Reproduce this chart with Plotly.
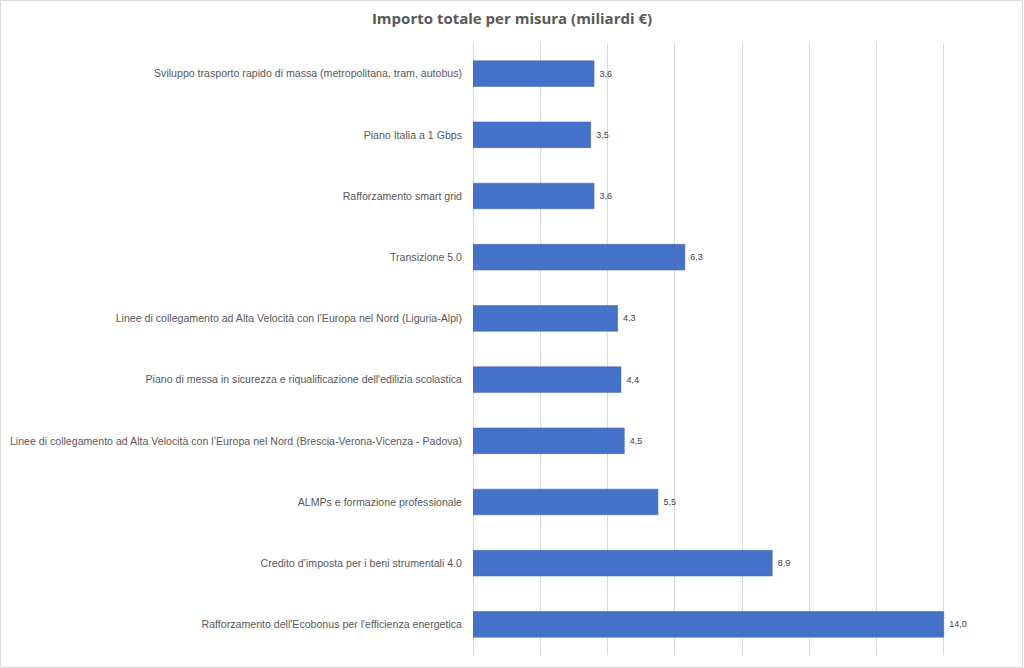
import plotly.graph_objects as go

categories = [
    "Sviluppo trasporto rapido di massa (metropolitana, tram, autobus)",
    "Piano Italia a 1 Gbps",
    "Rafforzamento smart grid",
    "Transizione 5.0",
    "Linee di collegamento ad Alta Velocità con l’Europa nel Nord (Liguria-Alpi)",
    "Piano di messa in sicurezza e riqualificazione dell'edilizia scolastica",
    "Linee di collegamento ad Alta Velocità con l’Europa nel Nord (Brescia-Verona-Vicenza - Padova)",
    "ALMPs e formazione professionale",
    "Credito d’imposta per i beni strumentali 4.0",
    "Rafforzamento dell'Ecobonus per l'efficienza energetica",
]
values = [3.6, 3.5, 3.6, 6.3, 4.3, 4.4, 4.5, 5.5, 8.9, 14.0]

W, H = 1024, 668
L, R, T, B = 473, 13, 43, 13
pw = W - L - R
ph = H - T - B

fig = go.Figure()
fig.add_trace(go.Bar(
    x=values, y=categories, orientation="h",
    marker=dict(color="#4571C8", line=dict(color="#3a64b4", width=0.5)),
    width=0.42,
    text=[" " + f"{v:.1f}".replace(".", ",") for v in values],
    textposition="outside",
    textfont=dict(family="Liberation Sans", size=9, color="#404040"),
    cliponaxis=False,
    hoverinfo="skip",
))

fig.update_layout(
    width=W, height=H,
    margin=dict(l=L, r=R, t=T, b=B, autoexpand=False),
    paper_bgcolor="white", plot_bgcolor="white",
    showlegend=False,
    separators=",.",
    title=dict(text="<b>Importo totale per misura (miliardi €)</b>",
               x=0.5, xref="container", xanchor="center",
               y=1 - 19 / H, yref="container", yanchor="middle",
               font=dict(family="Open Sans", size=15, color="#595959")),
    xaxis=dict(range=[0, 16], dtick=2, showticklabels=False,
               showgrid=True, gridcolor="#d9d9d9", gridwidth=1,
               zeroline=True, zerolinecolor="#d9d9d9", zerolinewidth=1,
               showline=False, fixedrange=True, automargin=False),
    yaxis=dict(categoryorder="array", categoryarray=categories,
               autorange="reversed", showgrid=False, ticks="",
               ticklabelstandoff=10, automargin=False,
               tickfont=dict(family="Liberation Sans", size=10.6, color="#595959")),
    bargap=0.58,
)

# light grey frame around the chart
fig.add_shape(type="rect", xref="paper", yref="paper",
              x0=(0.5 - L) / pw, x1=1 + (R - 1.5) / pw,
              y0=(-B + 0.5) / ph, y1=1 + (T - 0.5) / ph,
              line=dict(color="#d9d9d9", width=1), layer="above")

fig.write_html("out.html")
